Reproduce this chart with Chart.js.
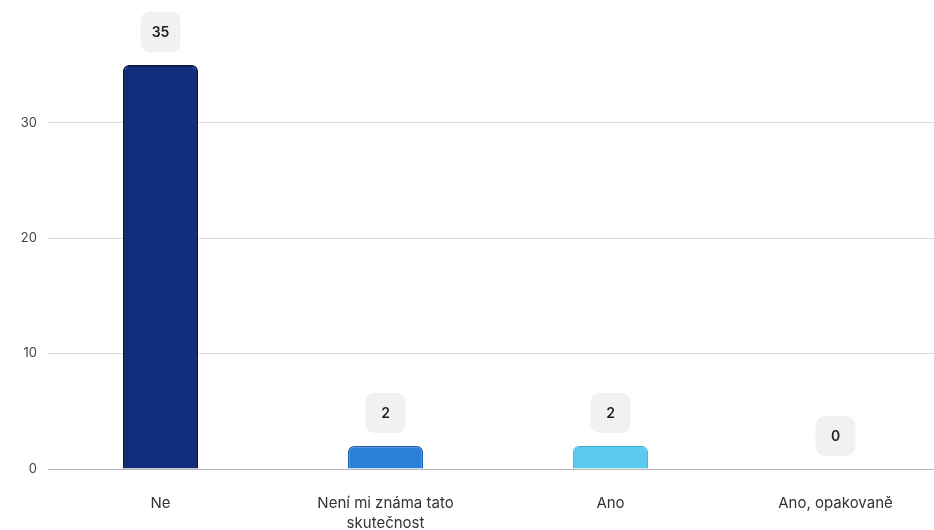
<!DOCTYPE html>
<html>
<head>
<meta charset="utf-8">
<script src="https://cdn.jsdelivr.net/npm/chart.js@4.4.1/dist/chart.umd.min.js"></script>
<style>
html,body{margin:0;padding:0;background:#fff;overflow:hidden;width:934px;height:530px;}
#wrap{width:948px;height:530px;}
canvas{display:block;}
</style>
</head>
<body>
<div id="wrap"><canvas id="c" width="948" height="530"></canvas></div>
<script>
const categories = [["Ne"], ["Není mi známa tato", "skutečnost"], ["Ano"], ["Ano, opakovaně"]];
const values = [35, 2, 2, 0];
const barColors = ["#122c7e", "#2c7fd7", "#5cc9ef", "#9ad6f0"];
const barBorders = ["#0a1a4c", "#1d5fb0", "#3eaedb", "#7cc0e0"];
const barBorderWidths = [2, 1.5, 1, 1];
const yTicks = [0, 10, 20, 30];

const labelBoxes = {
  id: 'labelBoxes',
  afterDatasetsDraw(chart) {
    const ctx = chart.ctx;
    const meta = chart.getDatasetMeta(0);
    ctx.save();
    meta.data.forEach((bar, i) => {
      const cx = bar.x;
      const cy = bar.y - 33;
      const w = 40, h = 40, r = 9;
      ctx.fillStyle = '#f0f1f2';
      ctx.beginPath();
      ctx.roundRect(cx - w / 2, cy - h / 2, w, h, r);
      ctx.fill();
      ctx.fillStyle = '#1f1f1f';
      ctx.font = '600 14px Inter, "Noto Sans", sans-serif';
      ctx.textAlign = 'center';
      ctx.textBaseline = 'middle';
      ctx.fillText(String(values[i]), cx, cy + 1);
    });
    ctx.restore();
  }
};

new Chart(document.getElementById('c'), {
  type: 'bar',
  data: {
    labels: categories,
    datasets: [{
      data: values,
      backgroundColor: barColors,
      borderColor: barBorders,
      borderWidth: barBorderWidths,
      borderRadius: {topLeft: 6, topRight: 6, bottomLeft: 0, bottomRight: 0},
      borderSkipped: 'bottom',
      barPercentage: 0.334,
      categoryPercentage: 1
    }]
  },
  options: {
    responsive: false,
    animation: false,
    devicePixelRatio: 1,
    layout: {padding: {top: 7, left: 0, right: 0, bottom: 0}},
    plugins: {legend: {display: false}, tooltip: {enabled: false}},
    scales: {
      x: {
        grid: {display: false, drawTicks: false},
        border: {display: false},
        ticks: {
          color: '#333333',
          font: {family: 'Inter, "Noto Sans", sans-serif', size: 15, lineHeight: 1.3},
          padding: 25,
          maxRotation: 0,
          autoSkip: false
        },
        afterFit(scale) { scale.height = 61; }
      },
      y: {
        min: 0,
        max: 39,
        afterBuildTicks(scale) { scale.ticks = yTicks.map(v => ({value: v})); },
        grid: {
          drawTicks: false,
          color: ctx => (ctx.tick && ctx.tick.value === 0) ? '#b5b5b5' : '#dcdcdc',
          lineWidth: 1
        },
        border: {display: false},
        ticks: {
          color: '#444444',
          font: {family: 'Inter, "Noto Sans", sans-serif', size: 13},
          padding: 11
        },
        afterFit(scale) { scale.width = 48; }
      }
    }
  },
  plugins: [labelBoxes]
});
</script>
</body>
</html>
